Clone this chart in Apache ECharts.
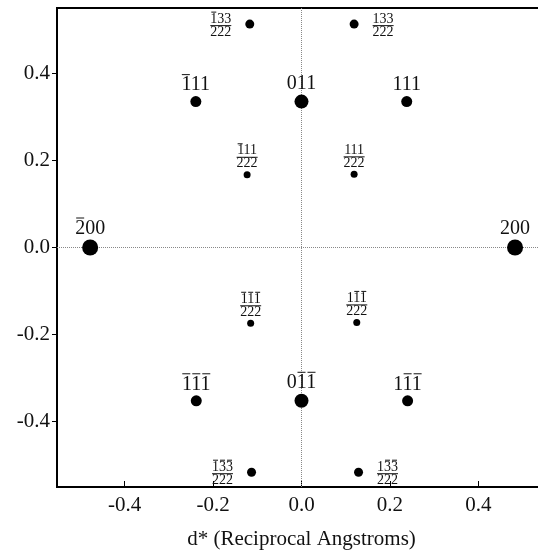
<!DOCTYPE html>
<html>
<head>
<meta charset="utf-8">
<script src="https://cdn.jsdelivr.net/npm/echarts@6/dist/echarts.min.js"></script>
<style>
  html, body { margin: 0; padding: 0; background: #fff; }
  #chart { width: 538px; height: 550px; }
</style>
</head>
<body>
<div id="chart"></div>
<script>
// spot labels: '-' before a digit means an overbar, '/222' means a 1/2(hkl) spot
const spotLabels = [
  '-200', '200',
  '-111', '011', '111',
  '-1-1-1', '0-1-1', '1-1-1',
  '-133/222', '133/222',
  '-111/222', '111/222',
  '-1-1-1/222', '1-1-1/222',
  '-1-3-3/222', '1-3-3/222'
]
const spotX = [-0.478, 0.483, -0.239, 0.0, 0.238, -0.238, 0.0, 0.24, -0.117, 0.119, -0.123, 0.119, -0.115, 0.125, -0.113, 0.129]
const spotY = [0.0, 0.0, 0.335, 0.335, 0.335, -0.352, -0.352, -0.352, 0.513, 0.513, 0.167, 0.168, -0.174, -0.172, -0.516, -0.516]
const spotType = ['200', '200', '111', '011', '111', '111', '011', '111',
  'half133', 'half133', 'half111', 'half111', 'half111', 'half111', 'half133', 'half133']

const xTicks = [-0.4, -0.2, 0.0, 0.2, 0.4]
const yTicks = [-0.4, -0.2, 0.0, 0.2, 0.4]
const xName = 'd* (Reciprocal Angstroms)'

const FONT = '"Liberation Serif", "DejaVu Serif", serif'
const INK = '#111'
const sizeOf = { '200': 16, '011': 14, '111': 11, half133: 9, half111: 7 }

// 上划线: 用一行细矩形放在数字上面
function indexText(code, p) {
  let bars = ''
  let digits = ''
  let barred = false
  for (const c of code) {
    if (c === '-') { barred = true; continue }
    digits += c
    bars += barred ? `{${p}g| }{${p}b| }{${p}g| }` : `{${p}s| }`
    barred = false
  }
  return `${bars}\n{${p}t|${digits}}`
}

function barStyles(p, fontSize, digitW, lineH) {
  const base = { align: 'center', fontSize: 1, lineHeight: 3 }
  return {
    [p + 't']: { fontFamily: FONT, fontSize: fontSize, lineHeight: lineH, color: INK, align: 'center' },
    [p + 's']: { ...base, width: digitW, height: 1 },
    [p + 'g']: { ...base, width: 1, height: 1 },
    [p + 'b']: { ...base, width: digitW - 2, height: 1, backgroundColor: INK }
  }
}

const richAll = {
  ...barStyles('i', 20, 10, 18),
  ...barStyles('f', 14, 7, 11),
  fbar: { width: 21, height: 1, lineHeight: 2, backgroundColor: INK, align: 'center', fontSize: 1 },
  fd: { fontFamily: FONT, fontSize: 14, lineHeight: 11, color: INK, align: 'center' }
}

function labelFor(i) {
  const type = spotType[i]
  const [num, den] = spotLabels[i].split('/')
  let pos = 'top'
  let dist = 2
  if (type === 'half133') {
    pos = spotX[i] < 0 ? 'left' : 'right'
    dist = 14
  }
  const text = den
    ? indexText(num, 'f') + '\n{fbar| }\n{fd|' + den + '}'
    : indexText(num, 'i')
  return {
    show: true,
    position: pos,
    distance: dist,
    formatter: () => text,
    rich: richAll
  }
}

const spots = spotLabels.map((name, i) => ({
  value: [spotX[i], spotY[i]],
  symbolSize: sizeOf[spotType[i]],
  label: labelFor(i)
}))

const chart = echarts.init(document.getElementById('chart'))
chart.setOption({
  animation: false,
  backgroundColor: '#fff',
  grid: {
    left: 57, top: 8, width: 489, bottom: 63,
    outerBoundsMode: 'none',
    containLabel: false,
    show: true, borderColor: '#000', borderWidth: 2, backgroundColor: 'transparent'
  },
  xAxis: {
    type: 'value',
    min: -0.553, max: 0.553,
    name: xName,
    nameLocation: 'middle',
    nameGap: 42,
    nameTextStyle: { fontFamily: FONT, fontSize: 21, color: INK },
    axisLine: { onZero: false, lineStyle: { color: '#000', width: 2 } },
    axisTick: { inside: true, length: 6, customValues: xTicks, lineStyle: { color: '#000' } },
    axisLabel: {
      customValues: xTicks,
      formatter: v => v.toFixed(1),
      fontFamily: FONT, fontSize: 21, color: INK, margin: 8
    },
    splitLine: { show: false }
  },
  yAxis: {
    type: 'value',
    min: -0.55, max: 0.55,
    axisLine: { onZero: false, lineStyle: { color: '#000', width: 2 } },
    axisTick: { inside: false, length: 5, customValues: yTicks, lineStyle: { color: '#000' } },
    axisLabel: {
      customValues: yTicks,
      formatter: v => v.toFixed(1),
      fontFamily: FONT, fontSize: 21, color: INK, margin: 7
    },
    splitLine: { show: false }
  },
  series: [
    {
      // 零线, 放在点的下面
      type: 'scatter',
      z: 1,
      data: [],
      markLine: {
        z: 1,
        silent: true,
        symbol: ['none', 'none'],
        label: { show: false },
        lineStyle: { type: 'dotted', color: '#888', width: 1 },
        data: [{ xAxis: 0 }, { yAxis: 0 }]
      }
    },
    {
      type: 'scatter',
      z: 3,
      data: spots,
      itemStyle: { color: '#000', opacity: 1 }
    }
  ]
})
</script>
</body>
</html>
